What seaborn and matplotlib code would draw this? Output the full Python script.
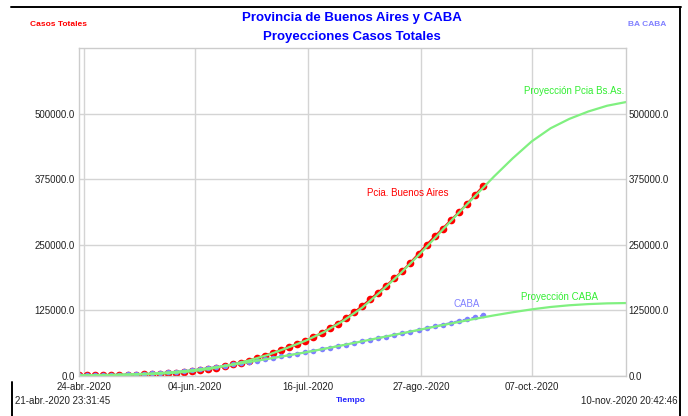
import matplotlib
matplotlib.use("Agg")
import matplotlib.pyplot as plt
from matplotlib.lines import Line2D
import seaborn as sns

# days counted from 22-abr.-2020 (start of the run)
DATA_DAYS = list(range(0, 151, 3))
PCIA_CASOS = [
    1000, 1150, 1300, 1500, 1700, 2000, 2300, 2700, 3200, 3800,
    4500, 5400, 6500, 7800, 9400, 11300, 13500, 16000, 18800, 22000,
    25500, 29500, 34000, 39000, 44000, 49500, 55000, 61000, 67000, 74000,
    82000, 91000, 100000, 110000, 121000, 133000, 146000, 159000, 172000, 186000,
    200000, 216000, 233000, 250000, 266000, 281000, 297000, 312000, 328000, 345000,
    362000,
]
CABA_CASOS = [
    1300, 1500, 1700, 1950, 2250, 2600, 3000, 3500, 4100, 4800,
    5700, 6800, 8100, 9600, 11300, 13200, 15200, 17400, 19700, 22100,
    24500, 27000, 29500, 32000, 34600, 37200, 39800, 42400, 45000, 48000,
    51000, 54000, 57000, 60000, 63000, 66000, 69000, 72000, 75000, 78000,
    81000, 84000, 87500, 91000, 94500, 98000, 101500, 105000, 108500, 112000,
    115500,
]

PROY_DAYS = list(range(0, 197, 7)) + [203]
PROY_PCIA = [
    1000, 1400, 1900, 2700, 3900, 5800, 9000, 14000, 21000, 29500,
    40000, 53000, 67000, 84000, 105000, 130000, 161000, 194000, 230000, 268000,
    306000, 343000, 380000, 415000, 447000, 472000, 490000, 504000, 515000, 522000,
]
PROY_CABA = [
    1300, 1800, 2400, 3500, 5100, 7500, 11000, 15500, 20800, 26500,
    32500, 38700, 45000, 51800, 58800, 66000, 73300, 80600, 87800, 95000,
    102000, 109000, 115500, 121500, 127000, 131500, 134800, 137000, 138400, 139000,
]

X_TICKS = [2, 43, 85, 127, 168]
X_LABELS = ["24-abr.-2020", "04-jun.-2020", "16-jul.-2020", "27-ago.-2020", "07-oct.-2020"]
Y_TICKS = [0, 125000, 250000, 375000, 500000]

RED = "#ff0000"
BLUE = "#8080ff"
GREEN_LINE = "#80f080"
GREEN_TEXT = "#33ee33"
TITLE_BLUE = "#0000ff"

sns.set_style("white")
plt.rcParams["font.family"] = ["Liberation Sans", "DejaVu Sans"]

fig = plt.figure(figsize=(6.88, 4.16), dpi=100)
ax = fig.add_axes([79 / 688, 1 - 376 / 416, (626 - 79) / 688, (376 - 48) / 416])

sns.lineplot(x=DATA_DAYS, y=PCIA_CASOS, color=RED, marker="o", markersize=5.5,
             markeredgewidth=0, linewidth=1.5, ax=ax)
sns.lineplot(x=DATA_DAYS, y=CABA_CASOS, color=BLUE, marker="o", markersize=4,
             markeredgewidth=0, linewidth=1.2, linestyle="--", ax=ax)
sns.lineplot(x=PROY_DAYS, y=PROY_PCIA, color=GREEN_LINE, linewidth=1.6, ax=ax)
sns.lineplot(x=PROY_DAYS, y=PROY_CABA, color=GREEN_LINE, linewidth=1.6, ax=ax)

ax.set_xlim(0, 203)
ax.set_ylim(0, 625000)
ax.set_xticks(X_TICKS)
ax.set_xticklabels(X_LABELS)
ax.set_yticks(Y_TICKS)
ax.set_yticklabels([f"{v:.1f}" for v in Y_TICKS])
ax.grid(True, color="#d4d4d4", linewidth=1.0)
ax.tick_params(axis="both", length=0, labelsize=7, colors="#222222")
ax.tick_params(axis="x", pad=4)
ax.tick_params(axis="y", pad=3)
for sp in ax.spines.values():
    sp.set_color("#cccccc")
    sp.set_linewidth(1.0)
ax.set_xlabel("")
ax.set_ylabel("")

ax2 = ax.twinx()
ax2.set_ylim(ax.get_ylim())
ax2.set_yticks(Y_TICKS)
ax2.set_yticklabels([f"{v:.1f}" for v in Y_TICKS])
ax2.tick_params(axis="y", length=0, labelsize=7, colors="#222222", pad=2)
for sp in ax2.spines.values():
    sp.set_visible(False)

# labels inside the plot
ax.text(122, 348000, "Pcia. Buenos Aires", color=RED, fontsize=7, ha="center", va="center")
ax.text(143.7, 137000, "CABA", color=BLUE, fontsize=7, ha="center", va="center")
ax.text(202.2, 543000, "Proyección Pcia Bs.As.", color=GREEN_TEXT, fontsize=7, ha="right", va="center")
ax.text(178.5, 150500, "Proyección CABA", color=GREEN_TEXT, fontsize=7, ha="center", va="center")

# titles and frame texts
fig.text(352 / 688, 1 - 18 / 416, "Provincia de Buenos Aires y CABA", color=TITLE_BLUE,
         fontsize=9.5, fontweight="bold", ha="center", va="center")
fig.text(352 / 688, 1 - 37 / 416, "Proyecciones Casos Totales", color=TITLE_BLUE,
         fontsize=9.5, fontweight="bold", ha="center", va="center")
fig.text(59 / 688, 1 - 25 / 416, "Casos Totales", color=RED, fontsize=6,
         fontweight="bold", ha="center", va="center")
fig.text(647 / 688, 1 - 25 / 416, "BA CABA", color=BLUE, fontsize=6,
         fontweight="bold", ha="center", va="center")
fig.text(351 / 688, 1 - 400 / 416, "Tiempo", color="#2222ff", fontsize=6,
         fontweight="bold", ha="center", va="center")
fig.text(15 / 688, 1 - 401 / 416, "21-abr.-2020 23:31:45", color="#222222",
         fontsize=7, ha="left", va="center")
fig.text(678 / 688, 1 - 401 / 416, "10-nov.-2020 20:42:46", color="#222222",
         fontsize=7, ha="right", va="center")

# window border
fig.add_artist(Line2D([11 / 688, 681 / 688], [1 - 7 / 416, 1 - 7 / 416], color="black", linewidth=1.4))
fig.add_artist(Line2D([680 / 688, 680 / 688], [0, 1 - 7 / 416], color="black", linewidth=1.4))
fig.add_artist(Line2D([12 / 688, 12 / 688], [0, 1 - 382 / 416], color="black", linewidth=1.4))

fig.savefig("out.png", dpi=100)
plt.close(fig)
